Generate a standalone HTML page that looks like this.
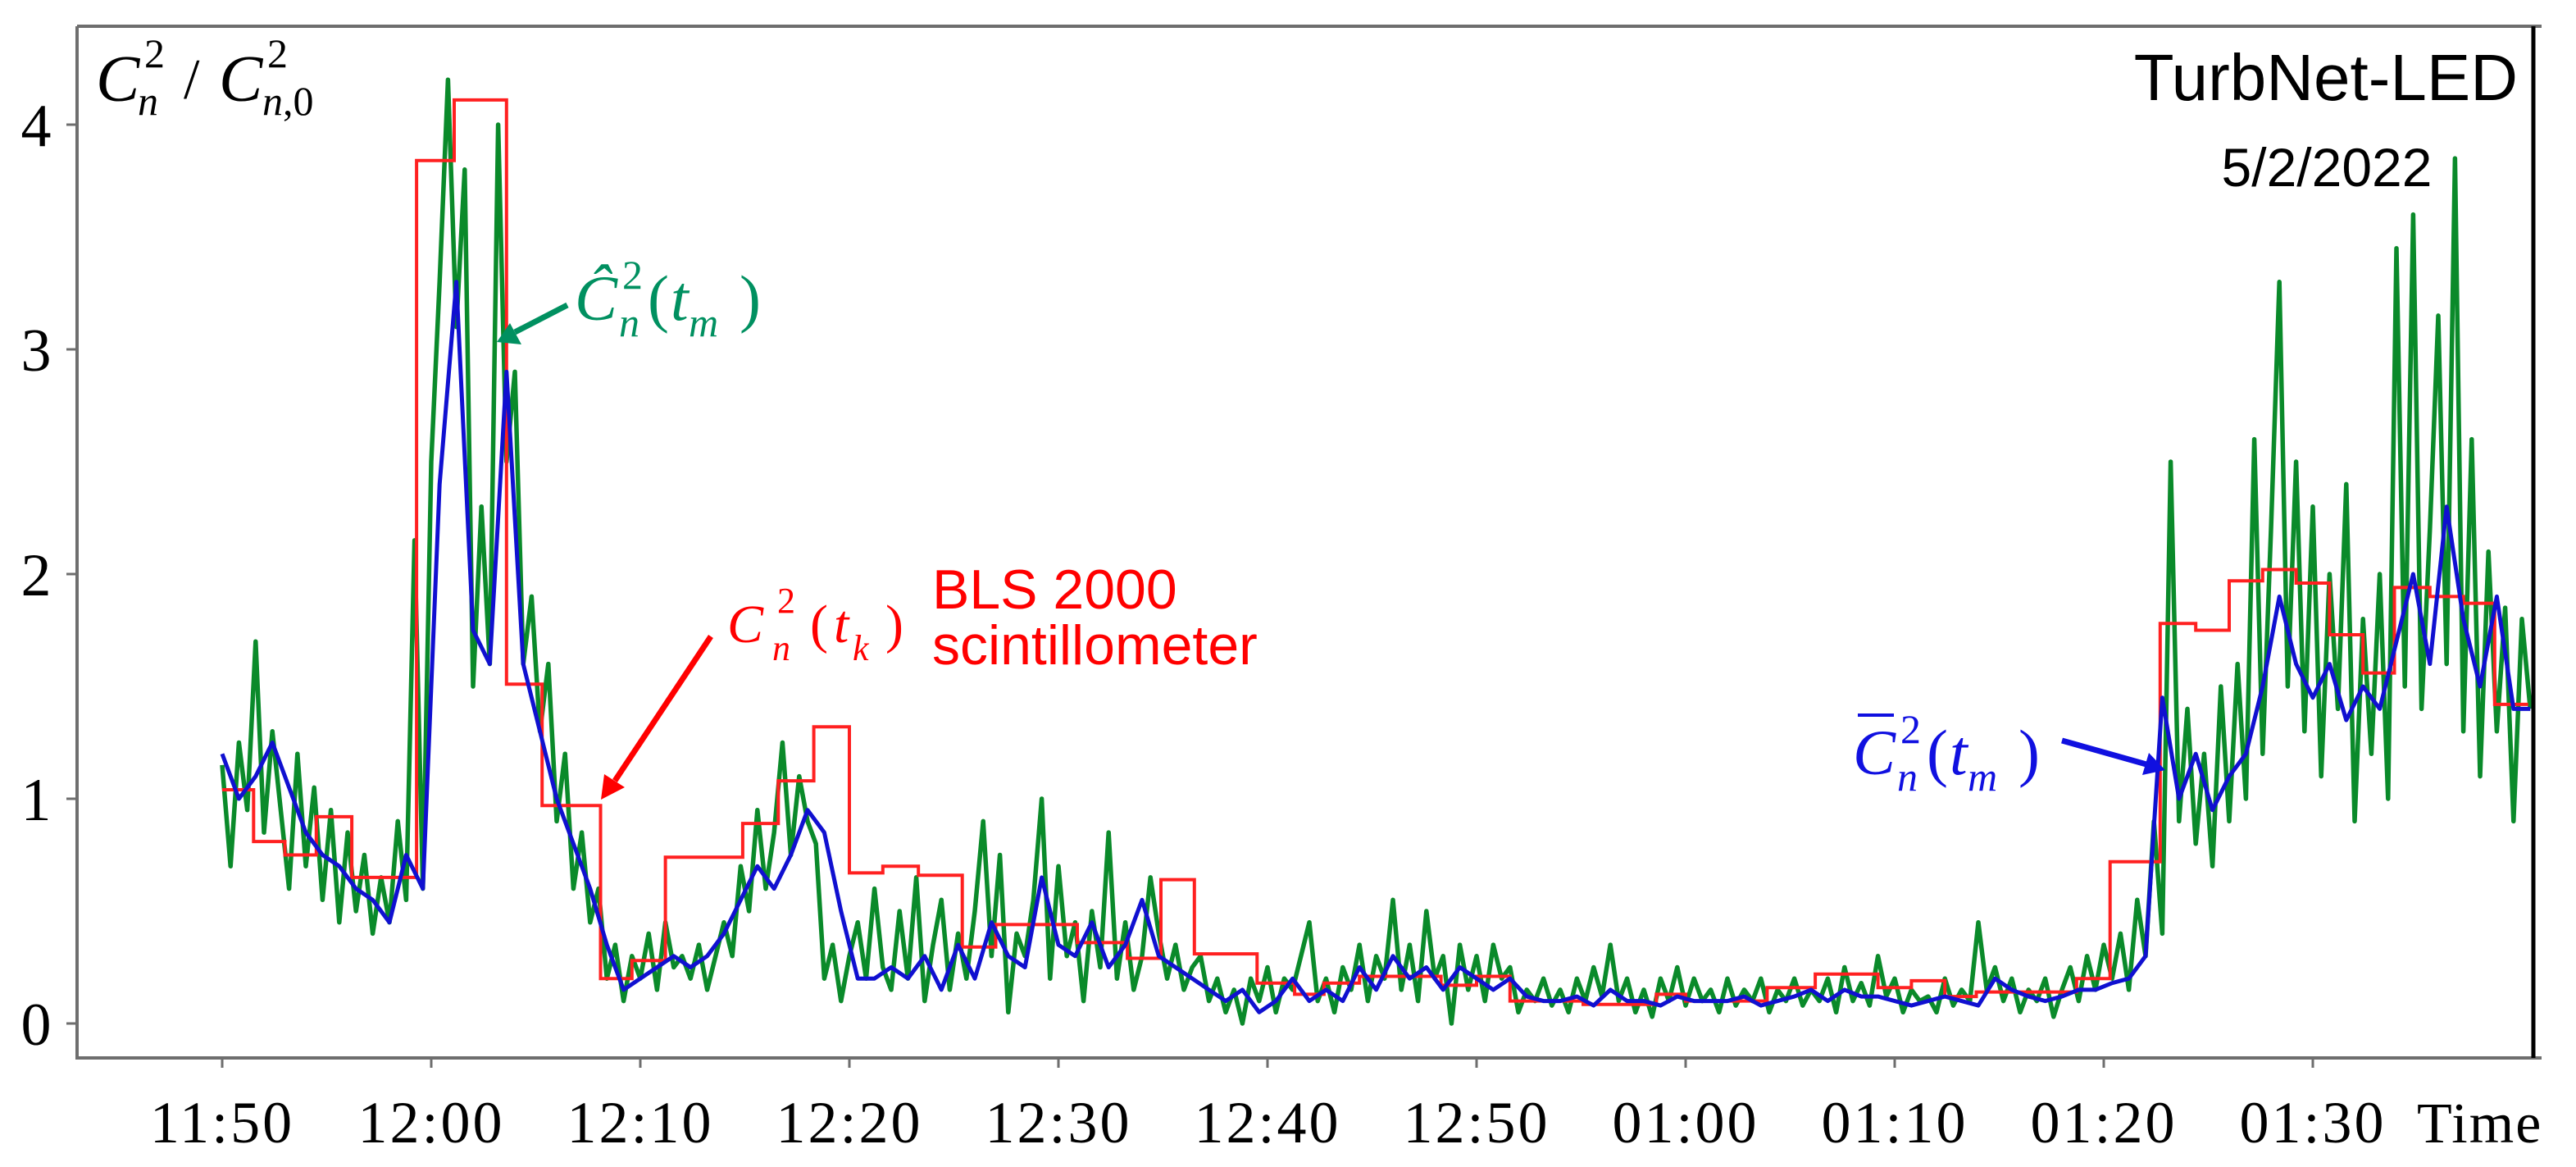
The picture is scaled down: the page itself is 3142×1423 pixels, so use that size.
<!DOCTYPE html>
<html><head><meta charset="utf-8"><style>
html,body{margin:0;padding:0;background:#fff;}
svg{display:block;}
.ser{font-family:"Liberation Serif",serif;}
.san{font-family:"Liberation Sans",sans-serif;}
</style></head><body>
<svg id="chart" width="3142" height="1423" viewBox="0 0 3142 1423" xmlns="http://www.w3.org/2000/svg">
<rect x="0" y="0" width="3142" height="1423" fill="#fff"/>
<g id="series"></g>
<g id="axes"></g>
<g id="labels">
  <text class="san" x="3071" y="122" font-size="80" text-anchor="end" fill="#000">TurbNet-LED</text>
  <text class="san" x="2838" y="227" font-size="66" text-anchor="middle" fill="#000">5/2/2022</text>
  <g class="ser" fill="#000">
    <text x="117" y="123" font-size="80" font-style="italic">C</text>
    <text x="176" y="82" font-size="50">2</text>
    <text x="168" y="140" font-size="50" font-style="italic">n</text>
    <text x="224" y="120" font-size="70">/</text>
    <text x="267" y="123" font-size="80" font-style="italic">C</text>
    <text x="326" y="82" font-size="50">2</text>
    <text x="320" y="140" font-size="50" font-style="italic">n<tspan font-style="normal">,0</tspan></text>
  </g>
  <text class="ser" x="2948" y="1393" font-size="70" letter-spacing="2" fill="#000">Time</text>
  <g class="ser" fill="#009060">
    <text x="701" y="390" font-size="78" font-style="italic">Ĉ</text>
    <text x="759" y="352" font-size="50">2</text>
    <text x="755" y="410" font-size="50" font-style="italic">n</text>
    <text x="790" y="390" font-size="78">(</text>
    <text x="818" y="390" font-size="78" font-style="italic">t</text>
    <text x="840" y="410" font-size="50" font-style="italic">m</text>
    <text x="902" y="390" font-size="78">)</text>
  </g>
  <g>
    <line x1="692" y1="372" x2="628" y2="405" stroke="#009060" stroke-width="7"/>
    <polygon points="606,417 622,394 636,420" fill="#009060"/>
  </g>
  <g class="ser" fill="#ff0000">
    <text x="887" y="783" font-size="66" font-style="italic">C</text>
    <text x="948" y="747" font-size="44">2</text>
    <text x="942" y="805" font-size="44" font-style="italic">n</text>
    <text x="988" y="783" font-size="66">(</text>
    <text x="1017" y="783" font-size="66" font-style="italic">t</text>
    <text x="1040" y="805" font-size="44" font-style="italic">k</text>
    <text x="1080" y="783" font-size="66">)</text>
  </g>
  <text class="san" x="1137" y="742" font-size="68" fill="#ff0000">BLS 2000</text>
  <text class="san" x="1137" y="810" font-size="68" fill="#ff0000">scintillometer</text>
  <g>
    <line x1="867" y1="776" x2="750" y2="952" stroke="#ff0000" stroke-width="7"/>
    <polygon points="733,975 737,944 762,960" fill="#ff0000"/>
  </g>
  <g class="ser" fill="#1010e0">
    <line x1="2266" y1="872" x2="2310" y2="872" stroke="#1010e0" stroke-width="4"/>
    <text x="2260" y="944" font-size="78" font-style="italic">C</text>
    <text x="2318" y="906" font-size="50">2</text>
    <text x="2314" y="964" font-size="50" font-style="italic">n</text>
    <text x="2350" y="944" font-size="78">(</text>
    <text x="2378" y="944" font-size="78" font-style="italic">t</text>
    <text x="2400" y="964" font-size="50" font-style="italic">m</text>
    <text x="2462" y="944" font-size="78">)</text>
  </g>
  <g>
    <line x1="2515" y1="903" x2="2618" y2="932" stroke="#1010e0" stroke-width="7"/>
    <polygon points="2641,939 2613,945 2621,918" fill="#1010e0"/>
  </g>
</g>
</svg>
<script>
// ---- data ----
const greenStart = 0, greenStep = 0.4; // minutes after 11:50
const greenValues = [
1.15,0.7,1.25,0.95,1.7,0.85,1.3,0.95,0.6,1.2,
0.7,1.05,0.55,0.95,0.45,0.85,0.5,0.75,0.4,0.65,
0.45,0.9,0.55,2.15,0.6,2.5,3.3,4.2,3.1,3.8,
1.5,2.3,1.6,4.0,2.5,2.9,1.6,1.9,1.3,1.6,
0.9,1.2,0.6,0.85,0.45,0.6,0.2,0.35,0.1,0.3,
0.2,0.4,0.15,0.45,0.25,0.3,0.2,0.35,0.15,0.3,
0.45,0.3,0.7,0.5,0.95,0.6,0.85,1.25,0.75,1.1,
0.9,0.8,0.2,0.35,0.1,0.3,0.45,0.2,0.6,0.25,
0.15,0.5,0.2,0.65,0.1,0.35,0.55,0.15,0.4,0.2,
0.5,0.9,0.3,0.75,0.05,0.4,0.3,0.55,1.0,0.2,
0.7,0.3,0.45,0.1,0.5,0.25,0.85,0.2,0.45,0.15,
0.3,0.65,0.4,0.2,0.35,0.15,0.25,0.3,0.1,0.2,
0.05,0.15,0.0,0.2,0.1,0.25,0.05,0.2,0.15,0.3,
0.45,0.1,0.2,0.05,0.25,0.15,0.35,0.1,0.3,0.2,
0.55,0.15,0.35,0.1,0.5,0.2,0.3,0.0,0.35,0.15,
0.3,0.1,0.35,0.2,0.25,0.05,0.15,0.1,0.2,0.08,
0.15,0.05,0.2,0.1,0.25,0.12,0.35,0.1,0.2,0.05,
0.15,0.03,0.2,0.1,0.25,0.08,0.2,0.1,0.15,0.05,
0.2,0.08,0.15,0.1,0.2,0.05,0.15,0.1,0.2,0.08,
0.15,0.1,0.2,0.05,0.25,0.1,0.18,0.08,0.3,0.12,
0.2,0.05,0.15,0.1,0.12,0.05,0.2,0.08,0.15,0.1,
0.45,0.15,0.25,0.1,0.2,0.05,0.15,0.1,0.2,0.03,
0.15,0.25,0.1,0.3,0.15,0.35,0.2,0.4,0.15,0.55,
0.3,0.9,0.4,2.5,0.9,1.4,0.8,1.2,0.7,1.5,
0.9,1.6,1.0,2.6,1.2,2.2,3.3,1.5,2.5,1.3,
2.3,1.1,2.0,1.4,2.4,0.9,1.8,1.2,2.0,1.0,
3.45,1.5,3.6,1.4,2.2,3.15,1.6,3.85,1.3,2.6,
1.1,2.1,1.3,1.85,0.9,1.8,1.4
];
const blueStart = 0, blueStep = 0.8;
const blueValues = [
1.2,1.0,1.1,1.25,1.05,0.85,0.75,0.7,0.6,0.55,
0.45,0.75,0.6,2.4,3.3,1.75,1.6,2.9,1.6,1.3,
1.0,0.8,0.6,0.35,0.15,0.2,0.25,0.3,0.25,0.3,
0.4,0.55,0.7,0.6,0.75,0.95,0.85,0.5,0.2,0.2,
0.25,0.2,0.3,0.15,0.35,0.2,0.45,0.3,0.25,0.65,
0.35,0.3,0.45,0.25,0.35,0.55,0.3,0.25,0.2,0.15,
0.1,0.15,0.05,0.1,0.2,0.1,0.15,0.1,0.25,0.15,
0.3,0.2,0.25,0.15,0.25,0.2,0.15,0.2,0.12,0.1,
0.1,0.12,0.08,0.15,0.1,0.1,0.08,0.12,0.1,0.1,
0.1,0.12,0.08,0.1,0.12,0.15,0.1,0.15,0.12,0.12,
0.1,0.08,0.1,0.12,0.1,0.08,0.2,0.15,0.12,0.1,
0.12,0.15,0.15,0.18,0.2,0.3,1.45,1.0,1.2,0.95,
1.1,1.2,1.5,1.9,1.6,1.45,1.6,1.35,1.5,1.4,
1.7,2.0,1.6,2.3,1.8,1.5,1.9,1.4,1.4
];
const redEdges = [0,1.5,3.0,4.5,6.2,9.3,11.1,13.6,15.3,18.1,19.6,21.2,24.9,26.6,28.3,30.0,31.6,33.3,35.4,37.0,40.9,43.3,44.9,46.5,49.5,51.3,52.7,54.4,58.3,60.0,61.6,65.1,68.6,70.0,73.9,76.2,79.2,80.8,82.4,83.9,85.5,88.7,90.3,92.7,94.4,96.0,97.6,99.2,100.8,102.4,103.9,105.6,107.2,108.7,110.3];
const redValues = [1.04,0.81,0.75,0.92,0.65,3.84,4.11,1.51,0.97,0.20,0.28,0.74,0.89,1.08,1.32,0.67,0.70,0.66,0.34,0.44,0.36,0.29,0.64,0.31,0.18,0.13,0.18,0.21,0.17,0.21,0.10,0.085,0.13,0.10,0.16,0.22,0.16,0.19,0.12,0.14,0.14,0.20,0.72,1.78,1.75,1.97,2.02,1.96,1.73,1.56,1.94,1.90,1.87,1.42];
const yTicks = [0,1,2,3,4];
const xTickMinutes = [0,10,20,30,40,50,60,70,80,90,100];
const xTickLabels = ["11:50","12:00","12:10","12:20","12:30","12:40","12:50","01:00","01:10","01:20","01:30"];

// ---- scales ----
const X0 = 271, XS = 25.5, Y0 = 1248, YS = 274;
function xs(t){ return X0 + t*XS; }
function ys(v){ return Y0 - v*YS; }
const NS = "http://www.w3.org/2000/svg";
const series = document.getElementById('series');
const axes = document.getElementById('axes');

function mk(tag, attrs, parent){
  const e = document.createElementNS(NS, tag);
  for (const k in attrs) e.setAttribute(k, attrs[k]);
  parent.appendChild(e);
  return e;
}

let d = '';
greenValues.forEach((v,i)=>{ d += (i?'L':'M') + xs(greenStart + i*greenStep).toFixed(1) + ',' + ys(v).toFixed(1); });
const g = mk('path', {d:d, fill:'none', stroke:'#0a8a2a', 'stroke-width':5.5, 'stroke-linejoin':'round'}, series);



d = '';
redValues.forEach((v,i)=>{
  const xa = xs(redEdges[i]).toFixed(1), xb = xs(redEdges[i+1]).toFixed(1), y = ys(v).toFixed(1);
  d += (i?'L':'M') + xa + ',' + y + 'L' + xb + ',' + y;
});
const r = mk('path', {d:d, fill:'none', stroke:'#ff2020', 'stroke-width':4}, series);



d = '';
blueValues.forEach((v,i)=>{ d += (i?'L':'M') + xs(blueStart + i*blueStep).toFixed(1) + ',' + ys(v).toFixed(1); });
const b = mk('path', {d:d, fill:'none', stroke:'#1010d0', 'stroke-width':5, 'stroke-linejoin':'round'}, series);



const frame = mk('path', {d:'M94,32L3100,32M94,32L94,1290L3100,1290', fill:'none', stroke:'#6e6e6e', 'stroke-width':4}, axes);


const rl = mk('line', {x1:3090, y1:32, x2:3090, y2:1290, stroke:'#000', 'stroke-width':5}, axes);



yTicks.forEach(v=>{
  const tk = mk('line', {x1:81, y1:ys(v), x2:94, y2:ys(v), stroke:'#6e6e6e', 'stroke-width':3}, axes);
  
  
  const tl = mk('text', {x:44, y:ys(v)+26, 'font-size':74, 'text-anchor':'middle', 'class':'ser', fill:'#000'}, axes);
  tl.textContent = String(v);
  
  
});
xTickMinutes.forEach((m,i)=>{
  const tk = mk('line', {x1:xs(m), y1:1290, x2:xs(m), y2:1302, stroke:'#6e6e6e', 'stroke-width':3}, axes);
  
  
  const tl = mk('text', {x:xs(m), y:1393, 'font-size':72, 'letter-spacing':3, 'text-anchor':'middle', 'class':'ser', fill:'#000'}, axes);
  tl.textContent = xTickLabels[i];
  
  
});
</script>
</body></html>
